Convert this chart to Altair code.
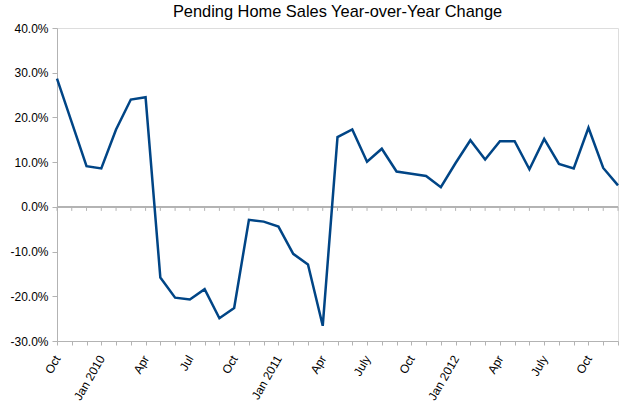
import altair as alt
import pandas as pd

# Monthly categories Oct 2009 .. Dec 2012
months = [
    "2009-10", "2009-11", "2009-12",
    "2010-01", "2010-02", "2010-03", "2010-04", "2010-05", "2010-06",
    "2010-07", "2010-08", "2010-09", "2010-10", "2010-11", "2010-12",
    "2011-01", "2011-02", "2011-03", "2011-04", "2011-05", "2011-06",
    "2011-07", "2011-08", "2011-09", "2011-10", "2011-11", "2011-12",
    "2012-01", "2012-02", "2012-03", "2012-04", "2012-05", "2012-06",
    "2012-07", "2012-08", "2012-09", "2012-10", "2012-11", "2012-12",
]

# Year-over-year change, percent
yoy_change = [
    28.7, 18.9, 9.1,
    8.6, 17.3, 24.0, 24.5, -15.8, -20.3,
    -20.7, -18.4, -24.9, -22.6, -2.9, -3.3,
    -4.4, -10.5, -12.9, -26.6, 15.6, 17.3,
    10.1, 13.0, 7.9, 7.4, 6.9, 4.4,
    9.8, 14.9, 10.6, 14.7, 14.7, 8.4,
    15.2, 9.6, 8.6, 17.7, 8.7, 4.8,
]

# Tick labels (shown every third month)
label_months = ["2009-10", "2010-01", "2010-04", "2010-07", "2010-10", "2011-01",
                "2011-04", "2011-07", "2011-10", "2012-01", "2012-04", "2012-07", "2012-10"]
tick_labels = ["Oct", "Jan 2010", "Apr", "Jul", "Oct", "Jan 2011",
               "Apr", "July", "Oct", "Jan 2012", "Apr", "July", "Oct"]

y_ticks = [-30, -20, -10, 0, 10, 20, 30, 40]

df = pd.DataFrame({"month": months, "value": yoy_change})

label_expr = "".join(
    f"datum.value == '{m}' ? '{t}' : " for m, t in zip(label_months, tick_labels)
) + "''"

GRID = "#b3b3b3"
FONT = "Liberation Sans"

x_enc = alt.X(
    "month:O",
    sort=months,
    scale=alt.Scale(type="point", padding=0, domain=months),
    axis=alt.Axis(
        title=None,
        labelExpr=label_expr,
        labelAngle=-60,
        labelAlign="right",
        labelBaseline="middle",
        labelPadding=11,
        labelFontSize=12,
        labelColor="#000000",
        labelFont=FONT,
        labelOverlap=False,
        labelBound=False,
        labelFlush=False,
        tickSize=4,
        tickColor=GRID,
        domainColor=GRID,
        grid=False,
    ),
)

y_scale = alt.Scale(domain=[-30, 40], nice=False, zero=False)

line = alt.Chart(df).mark_line(color="#004586", strokeWidth=2.5, strokeJoin="miter").encode(
    x=x_enc,
    y=alt.Y(
        "value:Q",
        scale=y_scale,
        axis=alt.Axis(
            title=None,
            values=y_ticks,
            labelExpr="(datum.value < 0 ? '-' : '') + format(abs(datum.value), '.1f') + '%'",
            labelFontSize=12,
            labelColor="#000000",
            labelFont=FONT,
            labelPadding=4,
            tickSize=5,
            tickColor=GRID,
            domainColor=GRID,
            gridColor=GRID,
            gridWidth=1,
        ),
    ),
)

zero_line = alt.Chart(df).mark_rule(color=GRID, strokeWidth=1).encode(
    y=alt.datum(0),
)

zero_ticks = alt.Chart(df).mark_rule(color=GRID, strokeWidth=1).encode(
    x=alt.X("month:O", sort=months),
    y=alt.datum(0),
    y2=alt.datum(-0.9),
)

chart = (
    alt.layer(zero_line, zero_ticks, line)
    .properties(
        width=561,
        height=313,
        padding={"left": 57, "top": 28, "right": 6, "bottom": 72},
        autosize=alt.AutoSizeParams(type="none"),
        title=alt.TitleParams(
            "Pending Home Sales Year-over-Year Change",
            font=FONT,
            fontSize=16.4,
            fontWeight="normal",
            color="#000000",
            anchor="middle",
            offset=2,
        ),
    )
    .configure_view(stroke=GRID, strokeWidth=1)
    .configure(background="white")
)

chart.save("out.html", embed_options={"renderer": "svg", "actions": False})
